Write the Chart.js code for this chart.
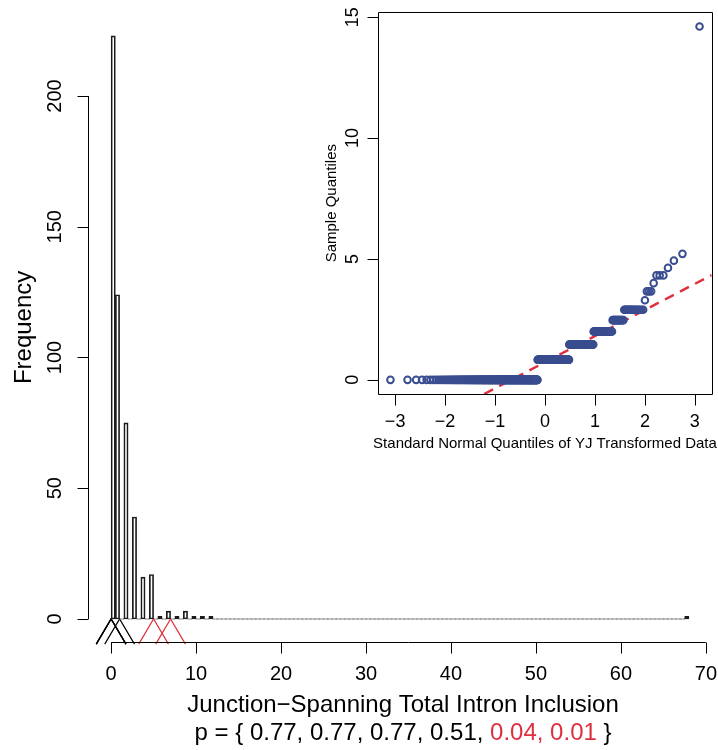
<!DOCTYPE html>
<html>
<head>
<meta charset="utf-8">
<script src="https://cdn.jsdelivr.net/npm/chart.js@4.4.1/dist/chart.umd.min.js"></script>
<style>
  html, body { margin: 0; padding: 0; background: #fff; }
  #wrap { position: relative; width: 718px; height: 750px; }
  #main { position: absolute; left: 0; top: 0; }
  #inset { position: absolute; left: 320px; top: 0; }
</style>
</head>
<body>
<div id="wrap">
  <canvas id="main" width="718" height="750"></canvas>
  <canvas id="inset" width="398" height="460"></canvas>
</div>
<script>
// observed counts and how many junctions have each count
const values = [0, 1, 2, 3, 4, 5, 6, 7, 8, 9, 10, 11, 12, 68];
const counts = [223, 124, 75, 39, 16, 17, 1, 3, 1, 3, 1, 1, 1, 1];
// YJ transformed level of each value (inset y)
const yjLevels = [0, 0.83, 1.46, 2.0, 2.47, 2.9, 3.29, 3.66, 4.0, 4.32, 4.63, 4.93, 5.21, 14.61];

const binWidth = 0.5;
const binMax = 68;

// triangles under the axis and their p-values
const markerPositions = [0, 0, 0, 1, 5, 7];
const pValues = [0.77, 0.77, 0.77, 0.51, 0.04, 0.01];
const sigLevel = 0.05;

const mainXTicks = [0, 10, 20, 30, 40, 50, 60, 70];
const mainXLabels = ['0', '10', '20', '30', '40', '50', '60', '70'];
const mainYTicks = [0, 50, 100, 150, 200];
const mainYLabels = ['0', '50', '100', '150', '200'];
const qqXTicks = [-3, -2, -1, 0, 1, 2, 3];
const qqXLabels = ['\u22123', '\u22122', '\u22121', '0', '1', '2', '3'];
const qqYTicks = [0, 5, 10, 15];
const qqYLabels = ['0', '5', '10', '15'];

const qqLineIntercept = 0.73;
const qqLineSlope = 1.08;

const FONT = "'Liberation Sans', Arial, Helvetica, sans-serif";
const RED = '#e0303f';
const BLUE = '#394d8f';

// histogram bins (right-closed, lowest included)
const bins = [];
for (let lo = 0; lo < binMax; lo += binWidth) bins.push({ x: lo + binWidth / 2, y: 0 });
values.forEach((v, i) => {
    const idx = Math.max(0, Math.ceil(v / binWidth) - 1);
    bins[idx].y += counts[i];
});

// inverse normal cdf (Acklam)
function qnorm(p) {
    const a = [-39.69683028665376, 220.9460984245205, -275.9285104469687, 138.3577518672690, -30.66479806614716, 2.506628277459239];
    const b = [-54.47609879822406, 161.5858368580409, -155.6989798598866, 66.80131188771972, -13.28068155288572];
    const c = [-0.007784894002430293, -0.3223964580411365, -2.400758277161838, -2.549732539343734, 4.374664141464968, 2.938163982698783];
    const d = [0.007784695709041462, 0.3224671290700398, 2.445134137142996, 3.754408661907416];
    const pl = 0.02425;
    const tail = q => (((((c[0] * q + c[1]) * q + c[2]) * q + c[3]) * q + c[4]) * q + c[5]) /
        ((((d[0] * q + d[1]) * q + d[2]) * q + d[3]) * q + 1);
    if (p < pl) return tail(Math.sqrt(-2 * Math.log(p)));
    if (p > 1 - pl) return -tail(Math.sqrt(-2 * Math.log(1 - p)));
    const q = p - 0.5, r = q * q;
    return (((((a[0] * r + a[1]) * r + a[2]) * r + a[3]) * r + a[4]) * r + a[5]) * q /
        (((((b[0] * r + b[1]) * r + b[2]) * r + b[3]) * r + b[4]) * r + 1);
}

const sample = [];
yjLevels.forEach((lv, i) => { for (let k = 0; k < counts[i]; k++) sample.push(lv); });
const qqPoints = sample.map((y, i) => ({ x: qnorm((i + 0.5) / sample.length), y }));

// R-like axes: lines only over the tick range, rotated y labels
const rAxes = {
    id: 'rAxes',
    afterDraw(chart, args, o) {
        const { ctx, chartArea: a, scales: { x, y } } = chart;
        ctx.save();
        ctx.strokeStyle = '#000';
        ctx.fillStyle = '#000';
        ctx.lineWidth = 1;
        const xb = Math.round(a.bottom) + 0.5;
        const yl = Math.round(a.left) + 0.5;
        ctx.beginPath();
        if (o.box) {
            ctx.rect(yl, Math.round(a.top) + 0.5, Math.round(a.right) - Math.round(a.left), Math.round(a.bottom) - Math.round(a.top));
        }
        ctx.moveTo(x.getPixelForValue(o.xTicks[0]), xb);
        ctx.lineTo(x.getPixelForValue(o.xTicks[o.xTicks.length - 1]), xb);
        o.xTicks.forEach(v => {
            const px = Math.round(x.getPixelForValue(v)) + 0.5;
            ctx.moveTo(px, xb);
            ctx.lineTo(px, xb + o.tick);
        });
        ctx.moveTo(yl, y.getPixelForValue(o.yTicks[0]));
        ctx.lineTo(yl, y.getPixelForValue(o.yTicks[o.yTicks.length - 1]));
        o.yTicks.forEach(v => {
            const py = Math.round(y.getPixelForValue(v)) + 0.5;
            ctx.moveTo(yl, py);
            ctx.lineTo(yl - o.tick, py);
        });
        ctx.stroke();

        ctx.font = o.tickFont;
        ctx.textAlign = 'center';
        ctx.textBaseline = 'middle';
        o.xTicks.forEach((v, i) => ctx.fillText(o.xLabels[i], x.getPixelForValue(v), xb + o.xGap));
        o.yTicks.forEach((v, i) => {
            ctx.save();
            ctx.translate(yl - o.yGap, y.getPixelForValue(v));
            ctx.rotate(-Math.PI / 2);
            ctx.fillText(o.yLabels[i], 0, 0);
            ctx.restore();
        });

        ctx.font = o.titleFont;
        ctx.fillText(o.xTitle, (a.left + a.right) / 2 + o.xTitleShift, xb + o.xTitleGap);
        ctx.save();
        ctx.translate(yl - o.yTitleGap, (a.top + a.bottom) / 2);
        ctx.rotate(-Math.PI / 2);
        ctx.fillText(o.yTitle, 0, 0);
        ctx.restore();

        if (o.pLine) {
            // p = { ... } with significant values in red
            const segs = [{ t: 'p = { ', c: '#000' }];
            pValues.forEach((p, i) => {
                const col = p < sigLevel ? RED : '#000';
                segs.push({ t: p.toFixed(2) + (i < pValues.length - 1 ? ', ' : ''), c: col });
            });
            segs.push({ t: ' }', c: '#000' });
            const w = segs.reduce((s, g) => s + ctx.measureText(g.t).width, 0);
            let px = (a.left + a.right) / 2 + o.xTitleShift - w / 2;
            ctx.textAlign = 'left';
            segs.forEach(g => {
                ctx.fillStyle = g.c;
                ctx.fillText(g.t, px, xb + o.pGap);
                px += ctx.measureText(g.t).width;
            });
        }
        ctx.restore();
    }
};

const TRI_HALF = 1.75;
const TRI_DEPTH = -9.6;
const triangles = markerPositions.map((m, i) => ({
    type: 'line',
    data: [{ x: m - TRI_HALF, y: TRI_DEPTH }, { x: m, y: 0 }, { x: m + TRI_HALF, y: TRI_DEPTH }],
    borderColor: pValues[i] < sigLevel ? RED : '#000',
    borderWidth: 1.2,
    pointRadius: 0,
    fill: false,
    tension: 0,
    clip: false
}));

new Chart(document.getElementById('main'), {
    type: 'bar',
    data: {
        datasets: [{
            type: 'bar',
            data: bins,
            backgroundColor: 'rgba(0,0,0,0)',
            borderColor: bins.map(b => b.y ? '#1a1a1a' : '#777'),
            borderWidth: 1,
            borderSkipped: false,
            minBarLength: 1,
            barPercentage: 1,
            categoryPercentage: 1
        }, ...triangles]
    },
    options: {
        responsive: false,
        animation: false,
        layout: { padding: { left: 88, right: 6, top: 12.5, bottom: 107.7 } },
        scales: {
            x: { type: 'linear', min: -2.72, max: 70.72, offset: false, display: false },
            y: { type: 'linear', min: -8.92, max: 231.92, display: false }
        },
        plugins: {
            legend: { display: false },
            tooltip: { enabled: false },
            rAxes: {
                xTicks: mainXTicks, xLabels: mainXLabels,
                yTicks: mainYTicks, yLabels: mainYLabels,
                tick: 11, xGap: 31.5, yGap: 33,
                tickFont: '20px ' + FONT,
                titleFont: '24px ' + FONT,
                xTitle: 'Junction\u2212Spanning Total Intron Inclusion',
                yTitle: 'Frequency',
                xTitleShift: 3, xTitleGap: 63, yTitleGap: 64,
                pLine: true, pGap: 91
            }
        }
    },
    plugins: [rAxes]
});

new Chart(document.getElementById('inset'), {
    type: 'scatter',
    data: {
        datasets: [{
            data: qqPoints,
            borderColor: BLUE,
            backgroundColor: 'rgba(0,0,0,0)',
            pointRadius: 3.3,
            borderWidth: 2
        }, {
            type: 'line',
            data: [
                { x: (-0.585 - qqLineIntercept) / qqLineSlope, y: -0.585 },
                { x: 3.337, y: qqLineIntercept + qqLineSlope * 3.337 }
            ],
            borderColor: RED,
            borderWidth: 2.5,
            borderDash: [10, 7],
            pointRadius: 0,
            fill: false,
            clip: 0
        }]
    },
    options: {
        responsive: false,
        animation: false,
        layout: { padding: { left: 58.3, right: 6.3, top: 12.3, bottom: 66 } },
        scales: {
            x: { type: 'linear', min: -3.337, max: 3.337, display: false },
            y: { type: 'linear', min: -0.585, max: 15.2, display: false }
        },
        plugins: {
            legend: { display: false },
            tooltip: { enabled: false },
            rAxes: {
                box: true,
                xTicks: qqXTicks, xLabels: qqXLabels,
                yTicks: qqYTicks, yLabels: qqYLabels,
                tick: 11, xGap: 28, yGap: 25,
                tickFont: '18px ' + FONT,
                titleFont: '15px ' + FONT,
                xTitle: 'Standard Normal Quantiles of YJ Transformed Data',
                yTitle: 'Sample Quantiles',
                xTitleShift: 0, xTitleGap: 49, yTitleGap: 47
            }
        }
    },
    plugins: [rAxes]
});
</script>
</body>
</html>
